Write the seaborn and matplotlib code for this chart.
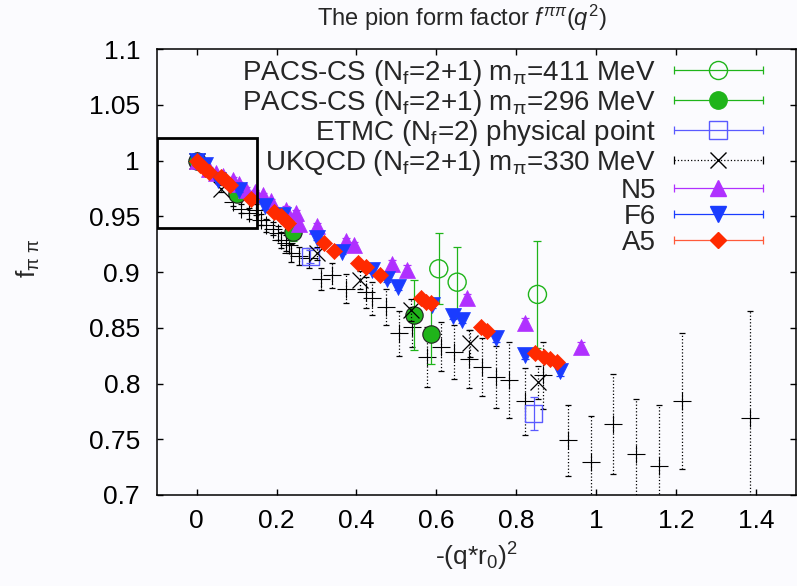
import warnings
import numpy as np
import matplotlib
matplotlib.use("Agg")
import matplotlib.pyplot as plt
import seaborn as sns
from matplotlib.lines import Line2D
from matplotlib.patches import Rectangle
from matplotlib.legend_handler import HandlerLine2D, HandlerTuple

warnings.filterwarnings("ignore")

# ---------------- data ----------------
pacs411_x = [0.606, 0.652, 0.853]
pacs411_y = [0.903, 0.891, 0.880]
pacs411_e = [0.032, 0.032, 0.048]

pacs296_x = [0.0, 0.101, 0.240, 0.544, 0.587]
pacs296_y = [1.0, 0.970, 0.936, 0.8615, 0.8445]
pacs296_e = [0.0, 0.003, 0.008, 0.031, 0.027]

etmc_x = [0.2845, 0.8435]
etmc_y = [0.914, 0.7733]
etmc_e = [0.006, 0.015]

ukqcd_x = [0.0, 0.062, 0.300, 0.409, 0.536, 0.685, 0.854]
ukqcd_y = [1.0, 0.975, 0.917, 0.893, 0.866, 0.836, 0.801]
ukqcd_e = [0.0, 0.003, 0.006, 0.008, 0.010, 0.012, 0.015]

ukqcd_all_x = [0.0, 0.0907, 0.1115, 0.132, 0.149, 0.1615, 0.174, 0.1905, 0.203,
               0.211, 0.224, 0.232, 0.236, 0.257, 0.282, 0.311, 0.340, 0.3735,
               0.4235, 0.440, 0.4735, 0.5067, 0.540, 0.577, 0.611, 0.644, 0.681,
               0.7146, 0.748, 0.781, 0.821, 0.866, 0.929, 0.987, 1.043, 1.099,
               1.158, 1.214, 1.384]
ukqcd_all_y = [1.0, 0.963, 0.957, 0.953, 0.956, 0.947, 0.942, 0.939, 0.935,
               0.929, 0.926, 0.924, 0.917, 0.9145, 0.9125, 0.894, 0.897, 0.885,
               0.882, 0.8765, 0.869, 0.845, 0.851, 0.824, 0.833, 0.8285, 0.822,
               0.815, 0.806, 0.803, 0.784, 0.8076, 0.749, 0.730, 0.764, 0.737,
               0.726, 0.784, 0.769]
ukqcd_all_e = [0.0, 0.004, 0.004, 0.005, 0.005, 0.005, 0.006, 0.006, 0.006,
               0.007, 0.007, 0.007, 0.008, 0.008, 0.009, 0.010, 0.011, 0.013,
               0.014, 0.015, 0.016, 0.020, 0.018, 0.027, 0.022, 0.024, 0.026,
               0.026, 0.028, 0.034, 0.030, 0.030, 0.032, 0.041, 0.045, 0.049,
               0.055, 0.061, 0.096]

n5_x = [0.0, 0.03, 0.049, 0.065, 0.0907, 0.105, 0.124, 0.145, 0.1655, 0.185,
        0.2238, 0.2488, 0.257, 0.300, 0.3735, 0.394, 0.490, 0.526, 0.6755,
        0.821, 0.9625]
n5_y = [1.0, 0.993, 0.989, 0.986, 0.983, 0.979, 0.974, 0.972, 0.969, 0.964,
        0.956, 0.953, 0.943, 0.941, 0.928, 0.924, 0.907, 0.902, 0.8765,
        0.854, 0.8325]
n5_e = [0.0, 0.001, 0.001, 0.001, 0.002, 0.002, 0.002, 0.002, 0.002, 0.002,
        0.003, 0.003, 0.003, 0.003, 0.003, 0.003, 0.004, 0.004, 0.004,
        0.005, 0.005]

f6_x = [0.0, 0.02, 0.053, 0.107, 0.17, 0.2154, 0.300, 0.365, 0.440, 0.4775,
        0.505, 0.590, 0.641, 0.665, 0.748, 0.823, 0.910]
f6_y = [1.0, 0.996, 0.983, 0.974, 0.959, 0.951, 0.931, 0.918, 0.902, 0.894,
        0.887, 0.8705, 0.861, 0.857, 0.841, 0.826, 0.811]
f6_e = [0.0, 0.001, 0.001, 0.002, 0.002, 0.002, 0.002, 0.002, 0.003, 0.003,
        0.003, 0.003, 0.003, 0.003, 0.004, 0.004, 0.004]

a5_x = [0.0, 0.0075, 0.02, 0.032, 0.0616, 0.07, 0.0824, 0.1365, 0.1947, 0.211,
        0.228, 0.3195, 0.3444, 0.4026, 0.4235, 0.4584, 0.5607, 0.5732, 0.5857,
        0.7105, 0.727, 0.848, 0.8685, 0.885, 0.9017]
a5_y = [1.0, 0.996, 0.993, 0.990, 0.9856, 0.983, 0.978, 0.966, 0.954, 0.950,
        0.944, 0.926, 0.919, 0.908, 0.905, 0.897, 0.8765, 0.873, 0.872,
        0.8505, 0.847, 0.827, 0.824, 0.822, 0.819]
a5_e = [0.0, 0.001, 0.001, 0.001, 0.001, 0.001, 0.001, 0.002, 0.002, 0.002,
        0.002, 0.002, 0.002, 0.002, 0.002, 0.002, 0.003, 0.003, 0.003,
        0.003, 0.003, 0.003, 0.003, 0.003, 0.003]

x_ticks = [0, 0.2, 0.4, 0.6, 0.8, 1.0, 1.2, 1.4]
x_tick_labels = ["0", "0.2", "0.4", "0.6", "0.8", "1", "1.2", "1.4"]
y_ticks = [0.7, 0.75, 0.8, 0.85, 0.9, 0.95, 1.0, 1.05, 1.1]
y_tick_labels = ["0.7", "0.75", "0.8", "0.85", "0.9", "0.95", "1", "1.05", "1.1"]

labels = [
    r"PACS-CS (N$_\mathrm{f}$=2+1) m$_\mathrm{π}$=411 MeV",
    r"PACS-CS (N$_\mathrm{f}$=2+1) m$_\mathrm{π}$=296 MeV",
    r"ETMC (N$_\mathrm{f}$=2) physical point",
    r"UKQCD (N$_\mathrm{f}$=2+1) m$_\mathrm{π}$=330 MeV",
    "N5",
    "F6",
    "A5",
]

# ---------------- style ----------------
sns.set_style("ticks")
plt.rcParams.update({
    "font.family": ["Liberation Sans", "DejaVu Sans"],
    "mathtext.fontset": "custom",
    "mathtext.rm": "Liberation Sans",
    "mathtext.it": "Liberation Sans:italic",
    "mathtext.bf": "Liberation Sans:bold",
    "axes.linewidth": 1.1,
})

BG = "#fbfbfe"
GREEN = "#1fb41a"
ETMC_BLUE = "#5a5aff"
BLUE = "#1a3cff"
PURPLE = "#b030ff"
RED = "#ff2a00"
RED_BAR = "#ff5a3a"

fig = plt.figure(figsize=(7.97, 5.86), dpi=100, facecolor=BG)
ax = fig.add_axes([0.1966, 0.1553, 0.8021, 0.7606], facecolor=BG)


def series(x, y, e, marker, ms, color, bar_color, face, lw_marker, bar_ls="-",
           cap=2.9, z=3):
    ax.errorbar(x, y, yerr=e, fmt="none", ecolor=bar_color, elinewidth=0.9,
                capsize=cap, capthick=0.9, ls="none", zorder=z)
    eb = ax.containers[-1]
    for lc in eb.lines[2]:
        lc.set_linestyle(bar_ls)
    if bar_ls != "-":
        for c in eb.lines[1]:
            c.set_linestyle("none")
    sns.scatterplot(x=x, y=y, marker=marker, s=ms ** 2, color=face,
                    edgecolor=color, linewidth=lw_marker, ax=ax, zorder=z + 0.5,
                    legend=False)


series(ukqcd_all_x, ukqcd_all_y, ukqcd_all_e, "+", 13, "black", "black",
       "black", 0.8, bar_ls=":", cap=2.2, z=2)
series(pacs411_x, pacs411_y, pacs411_e, "o", 13, GREEN, GREEN, "none", 1.0, z=3)
series(pacs296_x, pacs296_y, pacs296_e, "o", 12.5, "#202020", GREEN, GREEN, 0.8, z=4)
series(etmc_x, etmc_y, etmc_e, "s", 12.5, ETMC_BLUE, ETMC_BLUE, "none", 1.0, z=5)
series(ukqcd_x, ukqcd_y, ukqcd_e, "x", 11.5, "black", "black", "black", 0.9,
       bar_ls=":", cap=2.2, z=6)
series(n5_x, n5_y, n5_e, "^", 11.5, PURPLE, PURPLE, PURPLE, 0.5, z=7)
series(f6_x, f6_y, f6_e, "v", 11.5, BLUE, BLUE, BLUE, 0.5, z=8)
series(a5_x, a5_y, a5_e, "D", 8.2, RED, RED_BAR, RED, 0.5, z=9)

# zoom frame around the small-q^2 region
ax.add_patch(Rectangle((-0.1, 0.94), 0.25, 0.08, fill=False, lw=2.0,
                       edgecolor="black", zorder=10))

ax.set_xlim(-0.1, 1.5)
ax.set_ylim(0.7, 1.1)
ax.set_xticks(x_ticks, x_tick_labels)
ax.set_yticks(y_ticks, y_tick_labels)
ax.tick_params(axis="both", direction="in", top=True, right=True, length=4.5,
               width=1.0, labelsize=19, colors="black")
ax.tick_params(axis="x", pad=10)
ax.tick_params(axis="y", pad=12)
for s in ax.spines.values():
    s.set_visible(True)
    s.set_color("black")

ax.set_xlabel(r"-(q*r$_\mathrm{0}$)$^\mathrm{2}$", fontsize=19, labelpad=6)
ax.set_ylabel(r"f$_\mathrm{π\ π}$", fontsize=19)
ax.yaxis.set_label_coords(-0.18, 0.53)
fig.text(462 / 797, 1 - 18 / 586, r"The pion form factor $f^{\pi\pi}(q^2)$",
         ha="center", va="center", fontsize=17)

# legend: text on the left, sample line with marker and bar caps on the right
legend_specs = [
    (GREEN, "-", "o", 13, "none", GREEN),
    (GREEN, "-", "o", 12.5, GREEN, GREEN),
    (ETMC_BLUE, "-", "s", 12.5, "none", ETMC_BLUE),
    ("black", ":", "x", 11.5, "black", "black"),
    (PURPLE, "-", "^", 11.5, PURPLE, PURPLE),
    (BLUE, "-", "v", 11.5, BLUE, BLUE),
    (RED_BAR, "-", "D", 8.2, RED, RED),
]
handles = []
hmap = {tuple: HandlerTuple(ndivide=1, pad=0)}
for lc, ls, mk, ms, mfc, mec in legend_specs:
    main = Line2D([], [], color=lc, ls=ls, lw=0.9, marker=mk, ms=ms,
                  mfc=mfc, mec=mec, mew=1.0)
    caps = Line2D([], [], color=lc, ls="none", marker="|", ms=6, mew=0.9)
    hmap[main] = HandlerLine2D(numpoints=1)
    hmap[caps] = HandlerLine2D(numpoints=2, marker_pad=0)
    handles.append((main, caps))

ax.legend(handles, labels, handler_map=hmap, loc="upper right",
          bbox_to_anchor=(0.948, 0.981), frameon=False, markerfirst=False,
          fontsize=20, handlelength=3.2, handletextpad=0.65,
          labelspacing=0.0, borderpad=0, borderaxespad=0)

fig.savefig("out.png", dpi=100, facecolor=BG)
